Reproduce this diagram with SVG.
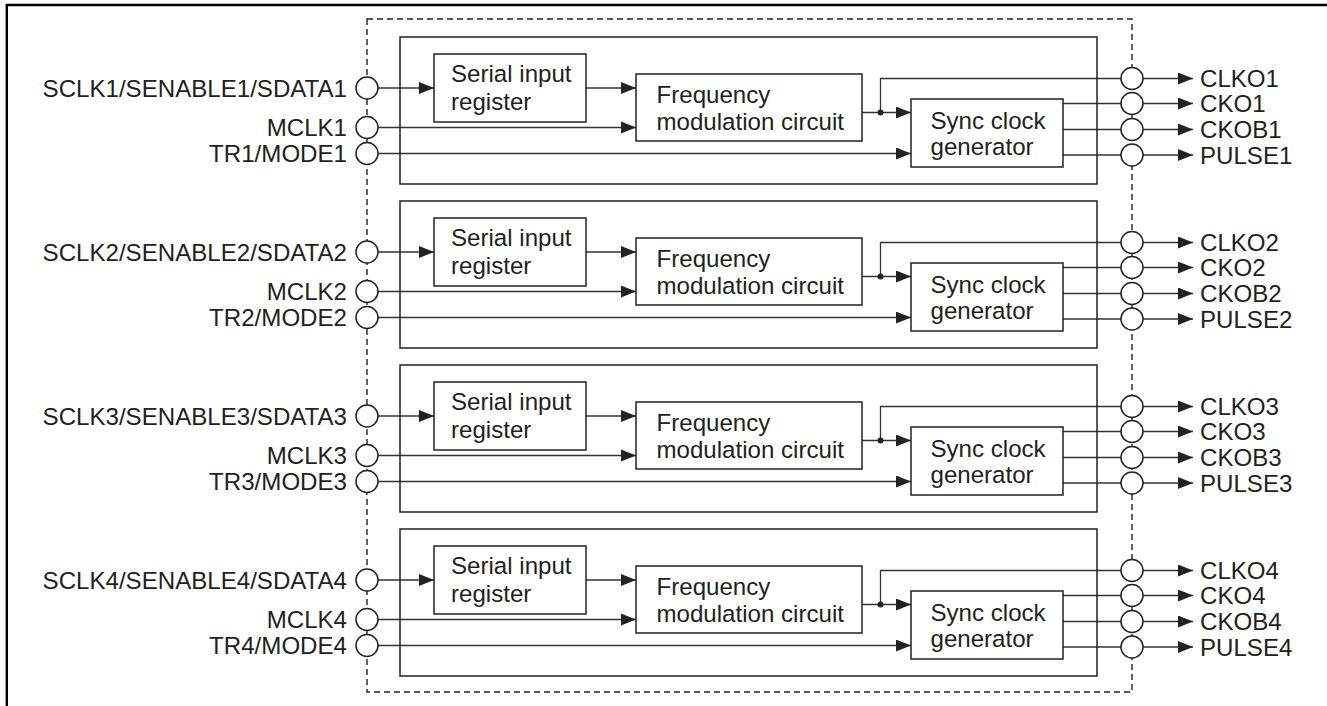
<svg xmlns="http://www.w3.org/2000/svg" width="1327" height="706" viewBox="0 0 1327 706">
<style>
text{font-family:"Liberation Sans",Arial,Helvetica,sans-serif;font-size:24.1px;fill:#231f20}
.box{fill:#fff;stroke:#222;stroke-width:1.5}
.blk{fill:none;stroke:#222;stroke-width:1.5}
.pin{fill:#fff;stroke:#222;stroke-width:1.5}
.w{fill:none;stroke:#333;stroke-width:1.3}
.wa{fill:none;stroke:#333;stroke-width:1.3;marker-end:url(#ah)}
.r{text-anchor:end}
</style>
<defs>
<marker id="ah" markerUnits="userSpaceOnUse" markerWidth="16" markerHeight="12" refX="15" refY="6" orient="auto">
<path d="M0,0 L15,6 L0,12 z" fill="#222"/>
</marker>
</defs>
<rect width="1327" height="706" fill="#fff"/>
<path id="frame" d="M6.8,706 V5 H1327" fill="none" stroke="#000" stroke-width="2.4"/>
<rect id="chip" x="367" y="19" width="765" height="673" fill="none" stroke="#222" stroke-width="1.4" stroke-dasharray="6,4"/>

<g id="connectors">
<g id="conn1">
<line class="wa" x1="378" y1="88" x2="434" y2="88"/>
<line class="wa" x1="586" y1="88" x2="636" y2="88"/>
<line class="wa" x1="378" y1="127.5" x2="636" y2="127.5"/>
<line class="wa" x1="378" y1="153.5" x2="911" y2="153.5"/>
<line class="wa" x1="862" y1="112.5" x2="911" y2="112.5"/>
<polyline class="w" points="880.5,112.5 880.5,78.5 1121,78.5"/>
<circle cx="880.5" cy="112.5" r="3" fill="#222"/>
<line class="w" x1="1063" y1="103.5" x2="1121" y2="103.5"/>
<line class="w" x1="1063" y1="129.5" x2="1121" y2="129.5"/>
<line class="w" x1="1063" y1="155" x2="1121" y2="155"/>
<line class="wa" x1="1143" y1="78.5" x2="1193" y2="78.5"/>
<line class="wa" x1="1143" y1="103.5" x2="1193" y2="103.5"/>
<line class="wa" x1="1143" y1="129.5" x2="1193" y2="129.5"/>
<line class="wa" x1="1143" y1="155" x2="1193" y2="155"/>
</g>
<g id="conn2" transform="translate(0,164)">
<line class="wa" x1="378" y1="88" x2="434" y2="88"/>
<line class="wa" x1="586" y1="88" x2="636" y2="88"/>
<line class="wa" x1="378" y1="127.5" x2="636" y2="127.5"/>
<line class="wa" x1="378" y1="153.5" x2="911" y2="153.5"/>
<line class="wa" x1="862" y1="112.5" x2="911" y2="112.5"/>
<polyline class="w" points="880.5,112.5 880.5,78.5 1121,78.5"/>
<circle cx="880.5" cy="112.5" r="3" fill="#222"/>
<line class="w" x1="1063" y1="103.5" x2="1121" y2="103.5"/>
<line class="w" x1="1063" y1="129.5" x2="1121" y2="129.5"/>
<line class="w" x1="1063" y1="155" x2="1121" y2="155"/>
<line class="wa" x1="1143" y1="78.5" x2="1193" y2="78.5"/>
<line class="wa" x1="1143" y1="103.5" x2="1193" y2="103.5"/>
<line class="wa" x1="1143" y1="129.5" x2="1193" y2="129.5"/>
<line class="wa" x1="1143" y1="155" x2="1193" y2="155"/>
</g>
<g id="conn3" transform="translate(0,328)">
<line class="wa" x1="378" y1="88" x2="434" y2="88"/>
<line class="wa" x1="586" y1="88" x2="636" y2="88"/>
<line class="wa" x1="378" y1="127.5" x2="636" y2="127.5"/>
<line class="wa" x1="378" y1="153.5" x2="911" y2="153.5"/>
<line class="wa" x1="862" y1="112.5" x2="911" y2="112.5"/>
<polyline class="w" points="880.5,112.5 880.5,78.5 1121,78.5"/>
<circle cx="880.5" cy="112.5" r="3" fill="#222"/>
<line class="w" x1="1063" y1="103.5" x2="1121" y2="103.5"/>
<line class="w" x1="1063" y1="129.5" x2="1121" y2="129.5"/>
<line class="w" x1="1063" y1="155" x2="1121" y2="155"/>
<line class="wa" x1="1143" y1="78.5" x2="1193" y2="78.5"/>
<line class="wa" x1="1143" y1="103.5" x2="1193" y2="103.5"/>
<line class="wa" x1="1143" y1="129.5" x2="1193" y2="129.5"/>
<line class="wa" x1="1143" y1="155" x2="1193" y2="155"/>
</g>
<g id="conn4" transform="translate(0,492)">
<line class="wa" x1="378" y1="88" x2="434" y2="88"/>
<line class="wa" x1="586" y1="88" x2="636" y2="88"/>
<line class="wa" x1="378" y1="127.5" x2="636" y2="127.5"/>
<line class="wa" x1="378" y1="153.5" x2="911" y2="153.5"/>
<line class="wa" x1="862" y1="112.5" x2="911" y2="112.5"/>
<polyline class="w" points="880.5,112.5 880.5,78.5 1121,78.5"/>
<circle cx="880.5" cy="112.5" r="3" fill="#222"/>
<line class="w" x1="1063" y1="103.5" x2="1121" y2="103.5"/>
<line class="w" x1="1063" y1="129.5" x2="1121" y2="129.5"/>
<line class="w" x1="1063" y1="155" x2="1121" y2="155"/>
<line class="wa" x1="1143" y1="78.5" x2="1193" y2="78.5"/>
<line class="wa" x1="1143" y1="103.5" x2="1193" y2="103.5"/>
<line class="wa" x1="1143" y1="129.5" x2="1193" y2="129.5"/>
<line class="wa" x1="1143" y1="155" x2="1193" y2="155"/>
</g>
</g>

<g id="channel1">
<rect id="block1" class="blk" x="400" y="37" width="697" height="147"/>
<g id="sir1"><rect class="box" x="434" y="54" width="152" height="68"/><text x="451" y="82">Serial input</text><text x="451" y="109.5">register</text></g>
<g id="fm1"><rect class="box" x="636" y="74" width="226" height="67"/><text x="656.5" y="103">Frequency</text><text x="656.5" y="130">modulation circuit</text></g>
<g id="scg1"><rect class="box" x="911" y="99" width="152" height="68"/><text x="930.5" y="128.5">Sync clock</text><text x="930.5" y="155">generator</text></g>
<g id="pin_sclk1"><circle class="pin" cx="367" cy="88" r="11"/><text class="r" x="347" y="96.5">SCLK1/SENABLE1/SDATA1</text></g>
<g id="pin_mclk1"><circle class="pin" cx="367" cy="127.5" r="11"/><text class="r" x="347" y="136">MCLK1</text></g>
<g id="pin_tr1"><circle class="pin" cx="367" cy="153.5" r="11"/><text class="r" x="347" y="162">TR1/MODE1</text></g>
<g id="pin_clko1"><circle class="pin" cx="1132" cy="78.5" r="11"/><text x="1200" y="87">CLKO1</text></g>
<g id="pin_cko1"><circle class="pin" cx="1132" cy="103.5" r="11"/><text x="1200" y="112">CKO1</text></g>
<g id="pin_ckob1"><circle class="pin" cx="1132" cy="129.5" r="11"/><text x="1200" y="138">CKOB1</text></g>
<g id="pin_pulse1"><circle class="pin" cx="1132" cy="155" r="11"/><text x="1200" y="163.5">PULSE1</text></g>
</g>

<g id="channel2" transform="translate(0,164)">
<rect id="block2" class="blk" x="400" y="37" width="697" height="147"/>
<g id="sir2"><rect class="box" x="434" y="54" width="152" height="68"/><text x="451" y="82">Serial input</text><text x="451" y="109.5">register</text></g>
<g id="fm2"><rect class="box" x="636" y="74" width="226" height="67"/><text x="656.5" y="103">Frequency</text><text x="656.5" y="130">modulation circuit</text></g>
<g id="scg2"><rect class="box" x="911" y="99" width="152" height="68"/><text x="930.5" y="128.5">Sync clock</text><text x="930.5" y="155">generator</text></g>
<g id="pin_sclk2"><circle class="pin" cx="367" cy="88" r="11"/><text class="r" x="347" y="96.5">SCLK2/SENABLE2/SDATA2</text></g>
<g id="pin_mclk2"><circle class="pin" cx="367" cy="127.5" r="11"/><text class="r" x="347" y="136">MCLK2</text></g>
<g id="pin_tr2"><circle class="pin" cx="367" cy="153.5" r="11"/><text class="r" x="347" y="162">TR2/MODE2</text></g>
<g id="pin_clko2"><circle class="pin" cx="1132" cy="78.5" r="11"/><text x="1200" y="87">CLKO2</text></g>
<g id="pin_cko2"><circle class="pin" cx="1132" cy="103.5" r="11"/><text x="1200" y="112">CKO2</text></g>
<g id="pin_ckob2"><circle class="pin" cx="1132" cy="129.5" r="11"/><text x="1200" y="138">CKOB2</text></g>
<g id="pin_pulse2"><circle class="pin" cx="1132" cy="155" r="11"/><text x="1200" y="163.5">PULSE2</text></g>
</g>

<g id="channel3" transform="translate(0,328)">
<rect id="block3" class="blk" x="400" y="37" width="697" height="147"/>
<g id="sir3"><rect class="box" x="434" y="54" width="152" height="68"/><text x="451" y="82">Serial input</text><text x="451" y="109.5">register</text></g>
<g id="fm3"><rect class="box" x="636" y="74" width="226" height="67"/><text x="656.5" y="103">Frequency</text><text x="656.5" y="130">modulation circuit</text></g>
<g id="scg3"><rect class="box" x="911" y="99" width="152" height="68"/><text x="930.5" y="128.5">Sync clock</text><text x="930.5" y="155">generator</text></g>
<g id="pin_sclk3"><circle class="pin" cx="367" cy="88" r="11"/><text class="r" x="347" y="96.5">SCLK3/SENABLE3/SDATA3</text></g>
<g id="pin_mclk3"><circle class="pin" cx="367" cy="127.5" r="11"/><text class="r" x="347" y="136">MCLK3</text></g>
<g id="pin_tr3"><circle class="pin" cx="367" cy="153.5" r="11"/><text class="r" x="347" y="162">TR3/MODE3</text></g>
<g id="pin_clko3"><circle class="pin" cx="1132" cy="78.5" r="11"/><text x="1200" y="87">CLKO3</text></g>
<g id="pin_cko3"><circle class="pin" cx="1132" cy="103.5" r="11"/><text x="1200" y="112">CKO3</text></g>
<g id="pin_ckob3"><circle class="pin" cx="1132" cy="129.5" r="11"/><text x="1200" y="138">CKOB3</text></g>
<g id="pin_pulse3"><circle class="pin" cx="1132" cy="155" r="11"/><text x="1200" y="163.5">PULSE3</text></g>
</g>

<g id="channel4" transform="translate(0,492)">
<rect id="block4" class="blk" x="400" y="37" width="697" height="147"/>
<g id="sir4"><rect class="box" x="434" y="54" width="152" height="68"/><text x="451" y="82">Serial input</text><text x="451" y="109.5">register</text></g>
<g id="fm4"><rect class="box" x="636" y="74" width="226" height="67"/><text x="656.5" y="103">Frequency</text><text x="656.5" y="130">modulation circuit</text></g>
<g id="scg4"><rect class="box" x="911" y="99" width="152" height="68"/><text x="930.5" y="128.5">Sync clock</text><text x="930.5" y="155">generator</text></g>
<g id="pin_sclk4"><circle class="pin" cx="367" cy="88" r="11"/><text class="r" x="347" y="96.5">SCLK4/SENABLE4/SDATA4</text></g>
<g id="pin_mclk4"><circle class="pin" cx="367" cy="127.5" r="11"/><text class="r" x="347" y="136">MCLK4</text></g>
<g id="pin_tr4"><circle class="pin" cx="367" cy="153.5" r="11"/><text class="r" x="347" y="162">TR4/MODE4</text></g>
<g id="pin_clko4"><circle class="pin" cx="1132" cy="78.5" r="11"/><text x="1200" y="87">CLKO4</text></g>
<g id="pin_cko4"><circle class="pin" cx="1132" cy="103.5" r="11"/><text x="1200" y="112">CKO4</text></g>
<g id="pin_ckob4"><circle class="pin" cx="1132" cy="129.5" r="11"/><text x="1200" y="138">CKOB4</text></g>
<g id="pin_pulse4"><circle class="pin" cx="1132" cy="155" r="11"/><text x="1200" y="163.5">PULSE4</text></g>
</g>
</svg>
